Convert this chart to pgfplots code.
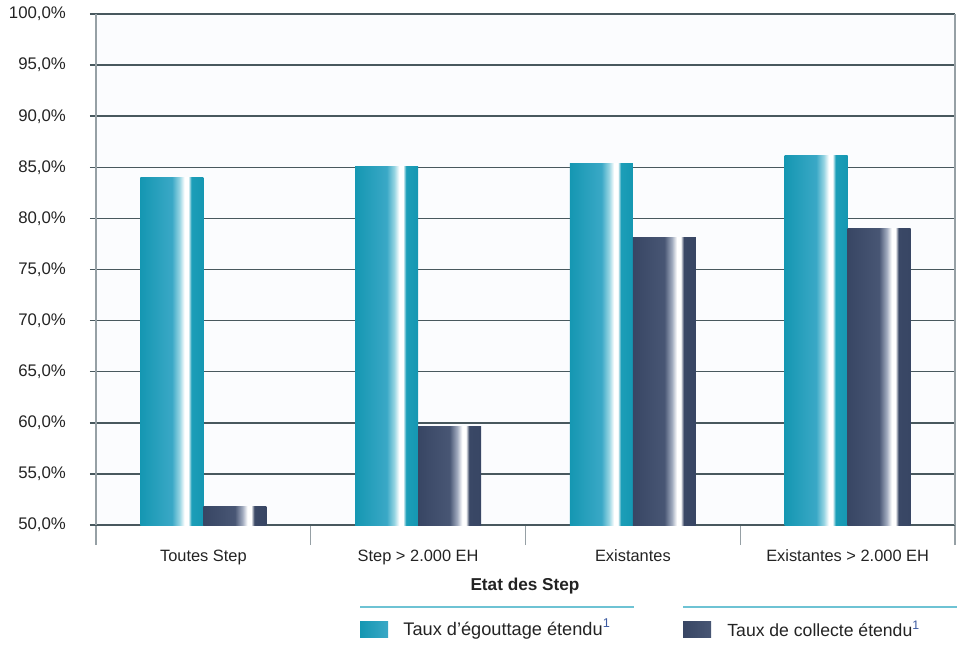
\documentclass[border=0pt]{standalone}
\usepackage{pgfplots}
\pgfplotsset{compat=1.18}
\usepackage{fontspec}
\setmainfont{Liberation Sans}
\definecolor{gridc}{RGB}{72,88,94}
\definecolor{axc}{RGB}{150,160,165}
\definecolor{bgc}{RGB}{251,252,254}
\definecolor{tA}{RGB}{21,151,178}
\definecolor{tB}{RGB}{58,168,198}
\definecolor{tC}{RGB}{150,212,226}
\definecolor{tD}{RGB}{28,158,184}
\definecolor{dA}{RGB}{56,70,100}
\definecolor{dB}{RGB}{72,86,116}
\definecolor{dC}{RGB}{160,170,190}
\definecolor{dD}{RGB}{58,72,102}
\definecolor{linec}{RGB}{110,195,212}
\definecolor{supc}{RGB}{60,90,160}
\definecolor{txt}{RGB}{35,35,35}
\pgfdeclarehorizontalshading{tealcyl}{100bp}{color(0bp)=(tA); color(25bp)=(tA); color(50bp)=(tB); color(56bp)=(tC); color(60bp)=(white); color(63bp)=(white); color(65.5bp)=(tD); color(75bp)=(tA); color(100bp)=(tA)}
\pgfdeclarehorizontalshading{darkcyl}{100bp}{color(0bp)=(dA); color(25bp)=(dA); color(50bp)=(dB); color(56bp)=(dC); color(60bp)=(white); color(63bp)=(white); color(65.5bp)=(dD); color(75bp)=(dA); color(100bp)=(dA)}
\begin{document}
\begin{tikzpicture}
\path[use as bounding box] (-48pt,-60pt) rectangle (431.5pt,262.5pt);
\begin{axis}[
  at={(0,0)}, anchor=south west,
  scale only axis, width=429.5pt, height=255.5pt,
  xmin=-0.5, xmax=3.5, ymin=50, ymax=100,
  tealbar/.style={ybar, draw=none, shading=tealcyl, bar width=0.293, bar shift=-0.1465},
  darkbar/.style={ybar, draw=none, shading=darkcyl, bar width=0.293, bar shift=0.1465},
  axis background/.style={fill=bgc},
  separate axis lines,
  x axis line style={draw=gridc, line width=0.75pt},
  y axis line style={draw=axc, line width=0.75pt},
  ytick={50,55,60,65,70,75,80,85,90,95,100},
  ymajorgrids,
  major grid style={draw=gridc, line width=0.75pt},
  tick align=outside,
  major tick length=3pt,
  ytick style={draw=gridc, line width=0.75pt},
  ytick pos=left,
  yticklabel={\pgfmathprintnumber[fixed,fixed zerofill,precision=1,use comma]{\tick}\%},
  /pgf/number format/assume math mode=true,
  yticklabel style={font=\fontsize{8.4}{10}\selectfont, text=txt, xshift=-8.5pt},
  xtick={-0.5,0.5,1.5,2.5,3.5},
  x tick label as interval,
  xticklabels={Toutes Step, Step > 2.000 EH, Existantes, Existantes > 2.000 EH},
  xtick pos=bottom,
  xtick style={draw=axc, line width=0.6pt, /pgfplots/major tick length=10pt},
  xticklabel style={font=\fontsize{8.2}{10}\selectfont, text=txt, yshift=-6pt},
  clip=true,
]
% Taux d'égouttage étendu
\addplot[tealbar] coordinates {(0,84.0)};
\addplot[tealbar] coordinates {(1,85.1)};
\addplot[tealbar] coordinates {(2,85.4)};
\addplot[tealbar] coordinates {(3,86.2)};
% Taux de collecte étendu
\addplot[darkbar] coordinates {(0,51.8)};
\addplot[darkbar] coordinates {(1,59.6)};
\addplot[darkbar] coordinates {(2,78.1)};
\addplot[darkbar] coordinates {(3,79.0)};
\end{axis}
\node[font=\fontsize{8.6}{10}\selectfont\bfseries, text=txt] at (214.5pt,-30.5pt) {Etat des Step};
\draw[linec, line width=0.6pt] (132pt,-41pt) -- (269pt,-41pt);
\draw[linec, line width=0.6pt] (293.5pt,-41pt) -- (430.5pt,-41pt);
\fill[left color=tA, right color=tB] (132pt,-56pt) rectangle (146pt,-48pt);
\fill[left color=dA, right color=dB] (293.5pt,-56pt) rectangle (307.5pt,-48pt);
\node[anchor=west, inner sep=0pt, font=\fontsize{9.1}{10}\selectfont, text=txt] at (153.5pt,-52pt) {Taux d’égouttage étendu\textsuperscript{\textcolor{supc}{1}}};
\node[anchor=west, inner sep=0pt, font=\fontsize{8.8}{10}\selectfont, text=txt] at (315.5pt,-52pt) {Taux de collecte étendu\textsuperscript{\textcolor{supc}{1}}};
\end{tikzpicture}
\end{document}
